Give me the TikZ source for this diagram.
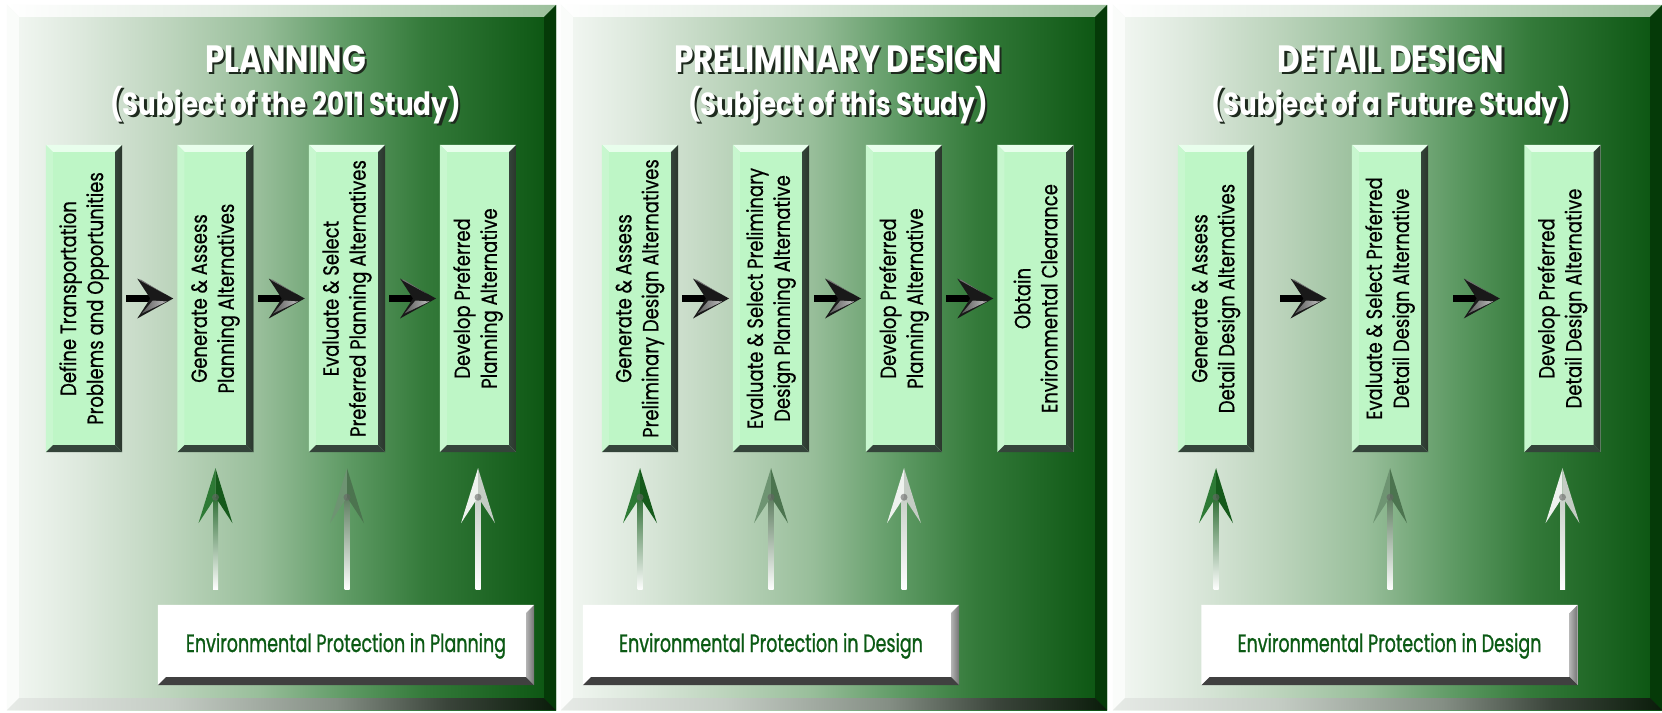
\documentclass[tikz,border=0pt]{standalone}
\usepackage{fontspec}
\setmainfont{Poppins}
\newfontfamily\titlefont[FakeStretch=0.82]{Poppins}
\newfontfamily\boxfont[FakeStretch=0.82,FakeBold=0.5]{Poppins}
\newfontfamily\envfont[FakeStretch=0.7,FakeBold=0.9]{Poppins}
\usetikzlibrary{calc}

\definecolor{pfA}{HTML}{F4F8F4}
\definecolor{pfB}{HTML}{DCE8DC}
\definecolor{pfC}{HTML}{BCD4BC}
\definecolor{pfD}{HTML}{98BE9A}
\definecolor{pfE}{HTML}{5E9A64}
\definecolor{pfF}{HTML}{347A3A}
\definecolor{pfG}{HTML}{0A5410}
\definecolor{ptA}{HTML}{FFFFFF}
\definecolor{ptB}{HTML}{E2ECE2}
\definecolor{ptC}{HTML}{BCD6BC}
\definecolor{ptD}{HTML}{9CC09C}
\definecolor{pbA}{HTML}{E6EAE6}
\definecolor{pbB}{HTML}{C4CCC4}
\definecolor{pbC}{HTML}{848E84}
\definecolor{pbD}{HTML}{3A443A}
\definecolor{pbE}{HTML}{0A1C0A}
\definecolor{prgt}{HTML}{053A08}
\definecolor{pleft}{HTML}{FAFCFA}
\definecolor{boxface}{HTML}{BEF6C6}
\definecolor{boxhi}{HTML}{E8FEEC}
\definecolor{boxdark}{HTML}{34443A}
\definecolor{boxdarkB}{HTML}{2A362C}
\definecolor{envgreen}{HTML}{0B5A14}
\definecolor{shadowc}{HTML}{1E2A1E}
\definecolor{aAL}{HTML}{2D7A35}
\definecolor{aAR}{HTML}{155A1B}
\definecolor{aAS}{HTML}{2E6E34}
\definecolor{aBL}{HTML}{6E9472}
\definecolor{aBR}{HTML}{4C744F}
\definecolor{aBS}{HTML}{5E7E60}
\definecolor{aCL}{HTML}{EEF2EE}
\definecolor{aCR}{HTML}{C4CCC4}
\definecolor{aCS}{HTML}{C8D0C8}

\pgfdeclarehorizontalshading{panelface}{100bp}{color(0bp)=(pfA); color(25bp)=(pfA); color(32bp)=(pfB); color(40bp)=(pfC); color(48bp)=(pfD); color(56bp)=(pfE); color(63bp)=(pfF); color(75bp)=(pfG); color(100bp)=(pfG)}
\pgfdeclarehorizontalshading{paneltop}{100bp}{color(0bp)=(ptA); color(25bp)=(ptA); color(45bp)=(ptB); color(60bp)=(ptC); color(75bp)=(ptD); color(100bp)=(ptD)}
\pgfdeclarehorizontalshading{panelbot}{100bp}{color(0bp)=(pbA); color(25bp)=(pbA); color(40bp)=(pbB); color(55bp)=(pbC); color(65bp)=(pbD); color(75bp)=(pbE); color(100bp)=(pbE)}

% bevel: node, width, top, left, right, bottom styles
\newcommand\bevel[6]{%
  \path[#3] (#1.north west) -- (#1.north east) -- ($(#1.north east)+(-#2,#2)$) -- ($(#1.north west)+(#2,#2)$) -- cycle;
  \path[#4] (#1.north west) -- ($(#1.north west)+(#2,#2)$) -- ($(#1.south west)+(#2,-#2)$) -- (#1.south west) -- cycle;
  \path[#5] (#1.north east) -- (#1.south east) -- ($(#1.south east)+(-#2,-#2)$) -- ($(#1.north east)+(-#2,#2)$) -- cycle;
  \path[#6] (#1.south west) -- (#1.south east) -- ($(#1.south east)+(-#2,-#2)$) -- ($(#1.south west)+(#2,-#2)$) -- cycle;
}
\newcommand\panelbevel[1]{\bevel{#1}{12}{shade,shading=paneltop}{fill=pleft}{fill=prgt}{shade,shading=panelbot}}
\newcommand\greenbevel[1]{\bevel{#1}{7}{fill=boxhi}{fill=boxface!85!white}{left color=boxdark,right color=boxdarkB}{fill=boxdark}}
\newcommand\whitebevel[1]{\bevel{#1}{8}{fill=white}{fill=white}{left color=black!30,right color=black!55}{fill=black!75}}

% horizontal arrow between two boxes
\newcommand\harr[2]{%
  \coordinate (hm) at ($(#1.east)!0.5!(#2.west)$);
  \fill[black] ($(hm)+(-23.5,-3.5)$) rectangle ($(hm)+(3,3.5)$);
  \fill[black!90] ($(hm)+(23.5,0)$) -- ($(hm)+(-12.5,-20)$) -- ($(hm)+(0.5,0)$) -- ($(hm)+(-12.5,20)$) -- cycle;
  \shade[left color=black!65, right color=black!25] ($(hm)+(3,2)$) -- ($(hm)+(-8,15)$) -- ($(hm)+(17,3)$) -- cycle;
  \fill[black!55] ($(hm)+(-11.5,-19)$) -- ($(hm)+(-9,-19)$) -- ($(hm)+(14,-5)$) -- cycle;
}
% vertical arrow from env box up to a step box
\newcommand\uarr[5]{%
  \coordinate (ut) at ($(#2.south)+(0,16)$);
  \coordinate (ub) at ($(#2.south |- #1.north)+(0,-15)$);
  \shade[top color=#5, bottom color=white] ($(ut)+(-2.5,29)$) rectangle ($(ub)+(2.5,0)$);
  \fill[#3] (ut) -- ($(ut)+(-17,55)$) -- ($(ut)+(0,29)$) -- cycle;
  \fill[#4] (ut) -- ($(ut)+(17,55)$) -- ($(ut)+(0,29)$) -- cycle;
  \fill[black!60, opacity=0.6] ($(ut)+(0,29)$) circle (3.5);
}

\begin{document}
\begin{tikzpicture}[x=1pt,y=-1pt,
  panel/.style={rectangle, inner sep=0pt, minimum height=705pt, shade, shading=panelface},
  gbox/.style={rectangle, inner sep=0pt, minimum width=76pt, minimum height=307pt, fill=boxface},
  ebox/.style={rectangle, inner sep=0pt, minimum width=376pt, minimum height=80pt, fill=white},
  btext/.style={rotate=90, align=center, inner sep=0pt, font=\boxfont\fontsize{22}{27}\selectfont},
  etext/.style={anchor=base, inner sep=0pt, text=envgreen, font=\envfont\fontsize{25}{28}\selectfont},
  ttl/.style={anchor=base, inner sep=0pt, font=\titlefont\bfseries\fontsize{38}{40}\selectfont},
  sub/.style={anchor=base, inner sep=0pt, font=\titlefont\bfseries\fontsize{32}{34}\selectfont},
]
\useasboundingbox (0,0) rectangle (1662,712);
\fill[white] (0,0) rectangle (1662,712);

% panels
\node[panel, minimum width=549pt] (p1) at (281.5,357.5) {};
\node[panel, minimum width=546pt] (p2) at (834,357.5) {};
\node[panel, minimum width=549pt] (p3) at (1387.5,357.5) {};
\panelbevel{p1}\panelbevel{p2}\panelbevel{p3}

% titles
\node[ttl, text=shadowc] at (288,74.5) {PLANNING};
\node[ttl, text=white] (t1) at (285.5,72) {PLANNING};
\node[sub, text=shadowc] at (288,117.5) {(Subject of the 2011 Study)};
\node[sub, text=white] (s1) at (285.5,115) {(Subject of the 2011 Study)};
\node[ttl, text=shadowc] at (840.5,74.5) {PRELIMINARY DESIGN};
\node[ttl, text=white] (t2) at (838,72) {PRELIMINARY DESIGN};
\node[sub, text=shadowc] at (840.5,117.5) {(Subject of this Study)};
\node[sub, text=white] (s2) at (838,115) {(Subject of this Study)};
\node[ttl, text=shadowc] at (1393.5,74.5) {DETAIL DESIGN};
\node[ttl, text=white] (t3) at (1391,72) {DETAIL DESIGN};
\node[sub, text=shadowc] at (1393.5,117.5) {(Subject of a Future Study)};
\node[sub, text=white] (s3) at (1391,115) {(Subject of a Future Study)};

% step boxes
\foreach \n/\x in {a1/84,a2/215.5,a3/347,a4/478,b1/640,b2/771,b3/904,b4/1035.5,c1/1216,c2/1390,c3/1562.5}{
  \node[gbox] (\n) at (\x,298.5) {};
  \greenbevel{\n}
}
\node[btext] at (a1) {Define Transportation\\Problems and Opportunities};
\node[btext] at (a2) {Generate \& Assess\\Planning Alternatives};
\node[btext] at (a3) {Evaluate \& Select\\Preferred Planning Alternatives};
\node[btext] at (a4) {Develop Preferred\\Planning Alternative};
\node[btext] at (b1) {Generate \& Assess\\Preliminary Design Alternatives};
\node[btext] at (b2) {Evaluate \& Select Preliminary\\Design Planning Alternative};
\node[btext] at (b3) {Develop Preferred\\Planning Alternative};
\node[btext] at (b4) {Obtain\\Environmental Clearance};
\node[btext] at (c1) {Generate \& Assess\\Detail Design Alternatives};
\node[btext] at (c2) {Evaluate \& Select Preferred\\Detail Design Alternative};
\node[btext] at (c3) {Develop Preferred\\Detail Design Alternative};

% horizontal arrows
\harr{a1}{a2}\harr{a2}{a3}\harr{a3}{a4}
\harr{b1}{b2}\harr{b2}{b3}\harr{b3}{b4}
\harr{c1}{c2}\harr{c2}{c3}

% environmental boxes
\node[ebox] (e1) at (346,645) {};
\node[ebox] (e2) at (771,645) {};
\node[ebox] (e3) at (1389.5,645) {};
\whitebevel{e1}\whitebevel{e2}\whitebevel{e3}
\node[etext] at ($(e1.center)+(0,7)$) {Environmental Protection in Planning};
\node[etext] at ($(e2.center)+(0,7)$) {Environmental Protection in Design};
\node[etext] at ($(e3.center)+(0,7)$) {Environmental Protection in Design};

% upward arrows
\uarr{e1}{a2}{aAL}{aAR}{aAS}\uarr{e1}{a3}{aBL}{aBR}{aBS}\uarr{e1}{a4}{aCL}{aCR}{aCS}
\uarr{e2}{b1}{aAL}{aAR}{aAS}\uarr{e2}{b2}{aBL}{aBR}{aBS}\uarr{e2}{b3}{aCL}{aCR}{aCS}
\uarr{e3}{c1}{aAL}{aAR}{aAS}\uarr{e3}{c2}{aBL}{aBR}{aBS}\uarr{e3}{c3}{aCL}{aCR}{aCS}
\end{tikzpicture}
\end{document}
